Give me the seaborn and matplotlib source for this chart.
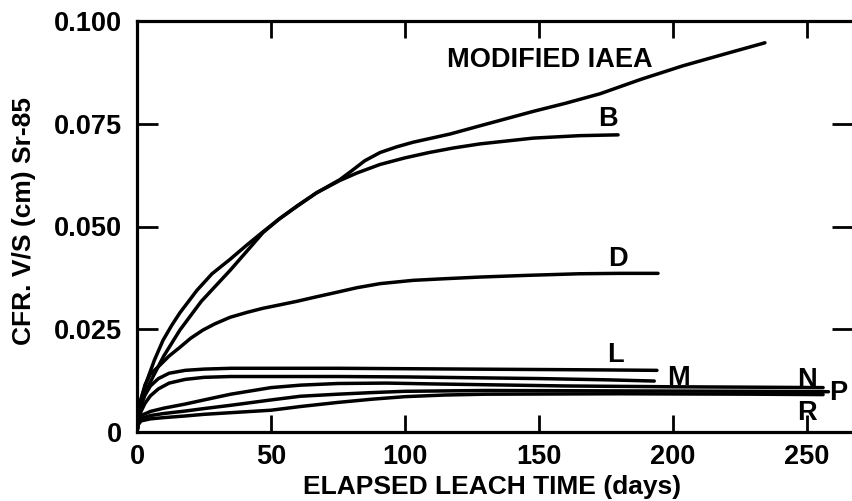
import numpy as np
import pandas as pd
import matplotlib
matplotlib.use("Agg")
import matplotlib.pyplot as plt
import seaborn as sns

# ---- data ----
iaea_x = [0, 0.5, 1.5, 3, 6, 10, 16, 24, 34.7, 41, 47, 53, 59.7, 67, 75.7, 80, 85, 90.7,
          97, 103, 116.8, 128, 147.8, 160, 172.8, 188, 203.7, 220, 234.3]
iaea_y = [0, 0.0030, 0.0065, 0.0095, 0.0135, 0.0185, 0.0248, 0.0318, 0.0393, 0.0440,
          0.0485, 0.0518, 0.0550, 0.0582, 0.0614, 0.0635, 0.0660, 0.0680, 0.0694, 0.0705,
          0.0725, 0.0745, 0.0780, 0.0800, 0.0823, 0.0858, 0.0891, 0.0921, 0.0947]

b_x = [0, 0.5, 1.5, 3.7, 6.5, 9.7, 13, 16, 22.4, 28, 34.7, 41, 47, 53, 59.7, 67, 75.7,
       82, 90.7, 100, 109, 118, 128, 147.8, 165, 179.5]
b_y = [0, 0.0035, 0.0080, 0.0125, 0.0175, 0.0223, 0.0260, 0.0290, 0.0345, 0.0385,
       0.0420, 0.0455, 0.0487, 0.0518, 0.0549, 0.0582, 0.0612, 0.0630, 0.0651, 0.0667,
       0.0680, 0.0691, 0.0701, 0.0715, 0.0721, 0.0723]

d_x = [0, 0.5, 1.5, 3, 4.9, 8.6, 12, 16, 20, 24.6, 29, 34.7, 41, 47, 53, 59.7, 67, 74.6,
       82, 90.7, 103, 115, 128, 145, 165, 180, 194.4]
d_y = [0, 0.0040, 0.0080, 0.0115, 0.0140, 0.0163, 0.0185, 0.0206, 0.0228, 0.0248,
       0.0263, 0.0279, 0.0291, 0.0301, 0.0309, 0.0318, 0.0329, 0.0340, 0.0351, 0.0361,
       0.0369, 0.0373, 0.0377, 0.0381, 0.0385, 0.0386, 0.0386]

l_x = [0, 0.5, 1.5, 3, 5, 8, 12, 18, 25, 35, 50, 75, 100, 125, 150, 175, 194]
l_y = [0, 0.0035, 0.0065, 0.0090, 0.0112, 0.0130, 0.0143, 0.0150, 0.0153, 0.0155,
       0.0155, 0.0155, 0.0154, 0.0153, 0.0152, 0.0151, 0.0150]

m_x = [0, 0.5, 1.5, 3, 5, 8, 12, 18, 25, 35, 50, 75, 100, 125, 150, 175, 193]
m_y = [0, 0.0025, 0.0050, 0.0070, 0.0088, 0.0105, 0.0119, 0.0128, 0.0133, 0.0135,
       0.0135, 0.0135, 0.0134, 0.0132, 0.0130, 0.0127, 0.0124]

n_x = [0, 0.5, 1.5, 5, 10, 18, 25, 35, 50, 61, 75, 93, 110, 130, 160, 200, 230, 256]
n_y = [0, 0.0025, 0.0040, 0.0050, 0.0058, 0.0068, 0.0078, 0.0092, 0.0108, 0.0114,
       0.0118, 0.0119, 0.0117, 0.0115, 0.0112, 0.0110, 0.0109, 0.0108]

p_x = [0, 0.5, 1.5, 5, 10, 18, 25, 35, 50, 61, 75, 88, 100, 115, 130, 180, 230, 258]
p_y = [0, 0.0022, 0.0033, 0.0040, 0.0045, 0.0051, 0.0057, 0.0065, 0.0078, 0.0087,
       0.0092, 0.0096, 0.0099, 0.0100, 0.0101, 0.0100, 0.0099, 0.0098]

r_x = [0, 0.5, 1.5, 5, 10, 18, 25, 35, 50, 61, 75, 88, 100, 115, 130, 180, 230, 256]
r_y = [0, 0.0018, 0.0027, 0.0032, 0.0035, 0.0039, 0.0043, 0.0047, 0.0053, 0.0062,
       0.0072, 0.0080, 0.0086, 0.0090, 0.0092, 0.0093, 0.0092, 0.0091]

series_names = ["MODIFIED IAEA", "B", "D", "L", "M", "N", "P", "R"]
series_x = [iaea_x, b_x, d_x, l_x, m_x, n_x, p_x, r_x]
series_y = [iaea_y, b_y, d_y, l_y, m_y, n_y, p_y, r_y]

x_ticks = [0, 50, 100, 150, 200, 250]
y_ticks = [0, 0.025, 0.050, 0.075, 0.100]
y_tick_labels = ["0", "0.025", "0.050", "0.075", "0.100"]
x_label = "ELAPSED LEACH TIME (days)"
y_label = "CFR. V/S (cm) Sr-85"

# curve label annotation positions (data coords)
label_pos = {
    "MODIFIED IAEA": (154.1, 0.0905),
    "B": (175.7, 0.0762),
    "D": (179.5, 0.0422),
    "L": (178.4, 0.0187),
    "M": (201.9, 0.0131),
    "N": (250.0, 0.0126),
    "P": (261.6, 0.0095),
    "R": (250.0, 0.0046),
}

# ---- build long table ----
rows = []
for name, xs, ys in zip(series_names, series_x, series_y):
    for i, (xv, yv) in enumerate(zip(xs, ys)):
        rows.append({"series": name, "order": i, "days": xv, "cfr": yv})
df = pd.DataFrame(rows)

sns.set_theme(style="ticks", rc={"text.color": "black", "axes.labelcolor": "black",
                                 "xtick.color": "black", "ytick.color": "black",
                                 "axes.edgecolor": "black"})
plt.rcParams["font.family"] = ["Liberation Sans", "DejaVu Sans"]
plt.rcParams["font.weight"] = "bold"

fig = plt.figure(figsize=(8.53, 5.01), dpi=100)
ax = fig.add_axes([137 / 853, (501 - 432) / 501, (853 - 137) / 853, (432 - 21) / 501])

sns.lineplot(data=df, x="days", y="cfr", hue="series", units="series",
             estimator=None, sort=False,
             palette=["black"] * len(series_names), legend=False,
             linewidth=2.5, ax=ax)

ax.set_xlim(0, 716 / 2.68)
ax.set_ylim(0, 0.1)

ax.set_xticks(x_ticks)
ax.set_xticklabels([str(t) for t in x_ticks], fontsize=19.5, fontweight="bold",
                   color="black")
ax.set_yticks(y_ticks)
ax.set_yticklabels(y_tick_labels, fontsize=19.5, fontweight="bold", color="black")

ax.tick_params(axis="x", direction="in", length=12, width=2, pad=9, top=True,
               colors="black")
ax.tick_params(axis="y", direction="in", length=15, width=2, pad=11, right=True,
               colors="black")

for side in ["left", "bottom", "top"]:
    ax.spines[side].set_linewidth(2.3)
    ax.spines[side].set_color("black")
ax.spines["right"].set_visible(False)

ax.set_xlabel("")
ax.set_ylabel("")
fig.text(492 / 853, 1 - 487 / 501, x_label, ha="center", va="center",
         fontsize=19, fontweight="bold", color="black")
fig.text(24 / 853, 1 - 221 / 501, y_label, ha="center", va="center",
         rotation=90, fontsize=19, fontweight="bold", color="black")

for name in series_names:
    xv, yv = label_pos[name]
    ax.text(xv, yv, name, ha="center", va="center", fontsize=19.5,
            fontweight="bold", color="black", clip_on=False)

fig.savefig("out.png", dpi=100, facecolor="white")
